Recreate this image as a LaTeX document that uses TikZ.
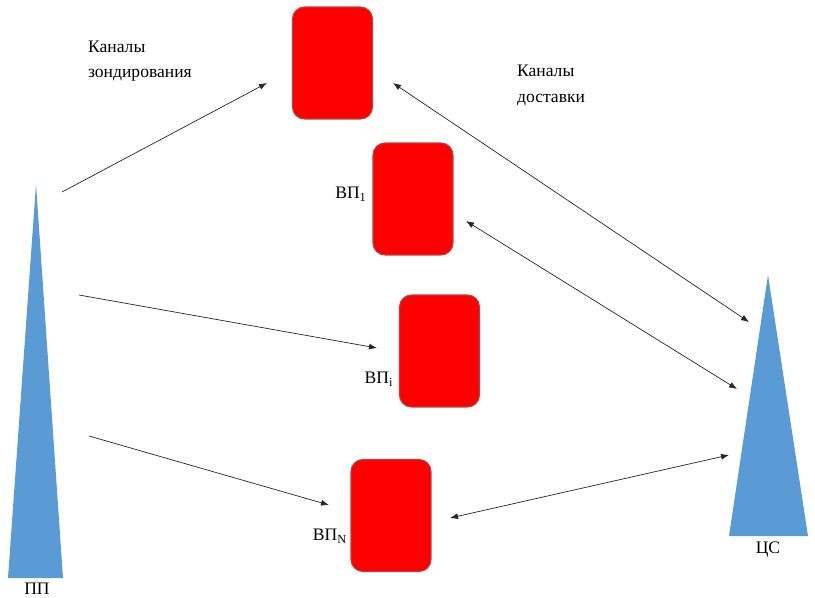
\documentclass[tikz,border=0pt]{standalone}
\usepackage{fontspec}
\setmainfont{Liberation Serif}
\usepackage{xcolor}
\usepackage{tikz}
\usetikzlibrary{arrows.meta,positioning}
\definecolor{boxRed}{HTML}{FF0000}
\definecolor{boxEdge}{HTML}{B8403C}
\definecolor{mastBlue}{HTML}{5B9BD5}
\tikzset{
  vpbox/.style={draw=boxEdge, line width=0.6pt, rounded corners=0.24cm, fill=boxRed,
                minimum width=1.6cm, minimum height=2.24cm, inner sep=0pt},
  mast/.style={fill=mastBlue, draw=none},
  lbl/.style={font=\rmfamily\fontsize{10}{12}\selectfont, inner sep=1pt},
  chan/.style={-{Latex[length=1.6mm,width=1.2mm]}, line width=0.4pt, draw=black!85},
  duplex/.style={{Latex[length=1.6mm,width=1.2mm]}-{Latex[length=1.6mm,width=1.2mm]},
                 line width=0.4pt, draw=black!85}
}

\begin{document}
\begin{tikzpicture}[x=0.02cm,y=-0.02cm]
  \useasboundingbox (0,0) rectangle (815,598);

  % masts
  \fill[mast] (36,184) -- (63,578) -- (8,578) -- cycle;
  \fill[mast] (768,275) -- (808,536) -- (729,536) -- cycle;
  \node[lbl] (pp) at (37,589) {ПП};
  \node[lbl] (cs) at (768,550) {ЦС};

  % relay boxes
  \node[vpbox] (vp0) at (332.5,63) {};
  \node[vpbox] (vp1) at (413,199) {};
  \node[vpbox] (vpi) at (439.5,351) {};
  \node[vpbox] (vpn) at (391,515.5) {};
  \node[lbl] (vp1lbl) at (351,194) {ВП\textsubscript{1}};
  \node[lbl] (vpilbl) at (379,379) {ВП\textsubscript{i}};
  \node[lbl] (vpnlbl) at (330,536) {ВП\textsubscript{N}};

  % captions
  \node[lbl, anchor=west, align=left] (sound) at (86,61) {Каналы\\[2pt]зондирования};
  \node[lbl, anchor=west] (deliv1) at (515,71) {Каналы};
  \node[lbl, anchor=west] (deliv2) at (515,100) {доставки};

  % arrow ends
  \coordinate (ppA) at (62,192);
  \coordinate (ppB) at (79,295);
  \coordinate (ppC) at (89,436);
  \coordinate (vp0in) at (267,83);
  \coordinate (vpiin) at (377,348);
  \coordinate (vpnin) at (329,505);
  \coordinate (vp0out) at (393,83);
  \coordinate (vp1out) at (466,221);
  \coordinate (vpnout) at (450,518);
  \coordinate (csA) at (749,322);
  \coordinate (csB) at (737,389);
  \coordinate (csC) at (729,455);

  % sounding channels
  \draw[chan] (ppA) -- (vp0in);
  \draw[chan] (ppB) -- (vpiin);
  \draw[chan] (ppC) -- (vpnin);

  % delivery channels
  \draw[duplex] (vp0out) -- (csA);
  \draw[duplex] (vp1out) -- (csB);
  \draw[duplex] (vpnout) -- (csC);
\end{tikzpicture}
\end{document}
